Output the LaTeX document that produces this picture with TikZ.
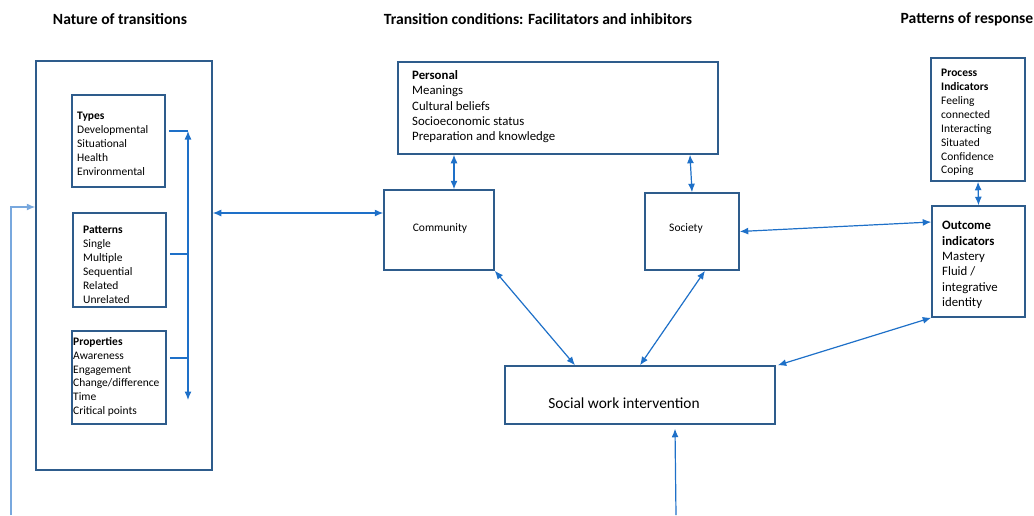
\documentclass[tikz,border=0pt]{standalone}
\usepackage{fontspec}
\setmainfont{Carlito}
\usetikzlibrary{arrows.meta,calc,positioning}
\definecolor{frame}{RGB}{46,92,140}
\definecolor{link}{RGB}{30,112,200}
\definecolor{feedline}{RGB}{120,168,222}

\begin{document}
\begin{tikzpicture}[x=1pt,y=-1pt,>={Latex[length=8.5pt,width=7pt]},
 box/.style={draw=frame,line width=1.5pt,inner sep=0pt},
 txt/.style={anchor=north west,inner sep=0pt,align=left,font=\fontsize{11.5}{13.9}\selectfont},
 bigtxt/.style={txt,font=\fontsize{12.8}{15.45}\selectfont},
 head/.style={font=\fontsize{15.6}{18}\selectfont\bfseries},
 arr/.style={draw=link,line width=1.2pt}]
\useasboundingbox (0,0) rectangle (1034,515);
\node[head] (h nature) at (120,19) {Nature of transitions};
\node[head] (h cond) at (538,19) {Transition conditions: Facilitators and inhibitors};
\node[head] (h resp) at (967,19) {Patterns of response};
\node[box,minimum width=176pt,minimum height=409pt] (nature) at (124,265.5) {};
\node[box,minimum width=93pt,minimum height=92pt] (types) at (118.5,141) {};
\node[box,minimum width=93pt,minimum height=94pt] (patterns) at (119.5,260) {};
\node[box,minimum width=94pt,minimum height=93pt] (properties) at (119,377.5) {};
\node[txt] (types text) at (77,112) {\textbf{Types}\\Developmental\\Situational\\Health\\Environmental};
\node[txt] (patterns text) at (83,226) {\textbf{Patterns}\\Single\\Multiple\\Sequential\\Related\\Unrelated};
\node[txt] (properties text) at (73,337) {\textbf{Properties}\\Awareness\\Engagement\\Change/difference\\Time\\Critical points};
\node[box,minimum width=320pt,minimum height=92pt] (personal) at (558,108) {};
\node[bigtxt] (personal text) at (412,70) {\textbf{Personal}\\Meanings\\Cultural beliefs\\Socioeconomic status\\Preparation and knowledge};
\node[box,minimum width=110pt,minimum height=80pt] (community) at (439,230) {};
\node[font=\fontsize{11.5}{14}\selectfont] (community text) at (440,228) {Community};
\node[box,minimum width=94pt,minimum height=77pt] (society) at (692,231.5) {};
\node[font=\fontsize{11.5}{14}\selectfont] (society text) at (686,228) {Society};
\node[box,minimum width=270pt,minimum height=58pt] (swi) at (640,395) {};
\node[font=\fontsize{15.4}{18}\selectfont] (swi text) at (624,403) {Social work intervention};
\node[box,minimum width=94pt,minimum height=123pt] (process) at (978,119.5) {};
\node[txt] (process text) at (941,69) {\textbf{Process}\\\textbf{Indicators}\\Feeling\\connected\\Interacting\\Situated\\Confidence\\Coping};
\node[box,minimum width=93pt,minimum height=111pt] (outcome) at (978.5,261.5) {};
\node[bigtxt] (outcome text) at (942,221) {\textbf{Outcome}\\\textbf{indicators}\\Mastery\\Fluid /\\integrative\\identity};
\coordinate (inlet) at (11,515);
\coordinate (inturn) at (11,207);
\draw[draw=feedline,line width=1.2pt,->] (inlet) -- (inturn) -- (inturn -| nature.west);
\coordinate (rail top) at (188,131);
\coordinate (rail bot) at (188,400);
\draw[arr,<->] (rail bot) -- (rail top);
\draw[arr] ([xshift=3pt]types.east |- rail top) -- (rail top);
\coordinate (pat out) at ([xshift=3pt,yshift=6pt]patterns.east);
\draw[arr] (pat out) -- (pat out -| rail top);
\coordinate (prop out) at ([xshift=3pt,yshift=19.5pt]properties.east);
\draw[arr] (prop out) -- (prop out -| rail top);
\coordinate (comm in) at ([yshift=17pt]community.west);
\draw[arr,<->] (comm in -| nature.east) -- (comm in);
\draw[arr,<->] ([xshift=15pt]community.north) -- ([xshift=15pt]community.north |- personal.south);
\draw[arr,<->] (society.north) -- ([xshift=-2pt]society.north |- personal.south);
\draw[arr,<->] (community.south east) -- ([xshift=-65pt]swi.north);
\draw[arr,<->] ([xshift=13pt]society.south) -- (swi.north);
\draw[arr,<->] (society.east) -- ([yshift=39.5pt]outcome.west);
\draw[arr,<->] ([xshift=2pt]swi.north east) -- (outcome.south west);
\draw[arr,<->] (process.south) -- (outcome.north);
\coordinate (feed) at (676,515);
\draw[arr,->] (feed) -- ([xshift=35pt,yshift=-4pt]swi.south);
\end{tikzpicture}
\end{document}
